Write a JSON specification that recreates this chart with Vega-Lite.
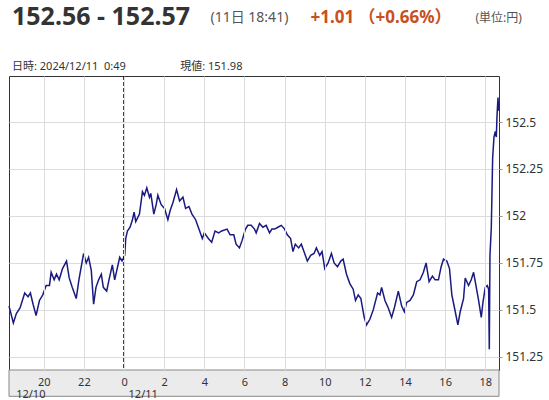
{
  "$schema": "https://vega.github.io/schema/vega-lite/v6.json",
  "width": 490,
  "height": 294,
  "autosize": {"type": "none"},
  "padding": {"left": 9, "top": 76, "right": 50, "bottom": 30},
  "background": "white",
  "title": {
    "text": "152.56 - 152.57",
    "subtitle": "日時: 2024/12/11\u00a0\u00a00:49\u00a0\u00a0\u00a0\u00a0\u00a0\u00a0\u00a0\u00a0\u00a0\u00a0\u00a0\u00a0\u00a0\u00a0\u00a0\u00a0\u00a0\u00a0\u00a0現値: 151.98",
    "anchor": "start",
    "frame": "group",
    "fontSize": 25,
    "fontWeight": "bold",
    "color": "#333333",
    "subtitleFontSize": 11,
    "subtitleColor": "#333333",
    "subtitlePadding": 31,
    "offset": 4,
    "dx": 3,
    "dy": 68
  },
  "layer": [
    {
      "data": {"values": [{}]},
      "mark": {"type": "rect", "fill": "#ebebeb", "stroke": "#888888", "strokeWidth": 1, "clip": false},
      "encoding": {
        "x": {"datum": {"year": 2024, "month": 12, "date": 10, "hours": 18, "minutes": 16}, "type": "temporal", "axis": null},
        "x2": {"datum": {"year": 2024, "month": 12, "date": 11, "hours": 18, "minutes": 41}},
        "y": {"datum": 151.18, "type": "quantitative", "axis": null},
        "y2": {"datum": 151.04}
      }
    },
    {
      "data": {
        "values": [
          {"time": "2024-12-10 18:16", "price": 151.52},
          {"time": "2024-12-10 18:19", "price": 151.50},
          {"time": "2024-12-10 18:29", "price": 151.43},
          {"time": "2024-12-10 18:38", "price": 151.48},
          {"time": "2024-12-10 18:49", "price": 151.51},
          {"time": "2024-12-10 19:03", "price": 151.59},
          {"time": "2024-12-10 19:13", "price": 151.57},
          {"time": "2024-12-10 19:20", "price": 151.59},
          {"time": "2024-12-10 19:28", "price": 151.53},
          {"time": "2024-12-10 19:37", "price": 151.47},
          {"time": "2024-12-10 19:47", "price": 151.55},
          {"time": "2024-12-10 19:57", "price": 151.58},
          {"time": "2024-12-10 20:07", "price": 151.63},
          {"time": "2024-12-10 20:17", "price": 151.63},
          {"time": "2024-12-10 20:22", "price": 151.70},
          {"time": "2024-12-10 20:31", "price": 151.66},
          {"time": "2024-12-10 20:38", "price": 151.69},
          {"time": "2024-12-10 20:46", "price": 151.66},
          {"time": "2024-12-10 20:56", "price": 151.72},
          {"time": "2024-12-10 21:08", "price": 151.76},
          {"time": "2024-12-10 21:16", "price": 151.67},
          {"time": "2024-12-10 21:25", "price": 151.62},
          {"time": "2024-12-10 21:37", "price": 151.56},
          {"time": "2024-12-10 21:45", "price": 151.66},
          {"time": "2024-12-10 21:59", "price": 151.80},
          {"time": "2024-12-10 22:07", "price": 151.75},
          {"time": "2024-12-10 22:14", "price": 151.78},
          {"time": "2024-12-10 22:22", "price": 151.71},
          {"time": "2024-12-10 22:29", "price": 151.53},
          {"time": "2024-12-10 22:36", "price": 151.62},
          {"time": "2024-12-10 22:44", "price": 151.66},
          {"time": "2024-12-10 22:52", "price": 151.69},
          {"time": "2024-12-10 22:58", "price": 151.62},
          {"time": "2024-12-10 23:08", "price": 151.60},
          {"time": "2024-12-10 23:15", "price": 151.66},
          {"time": "2024-12-10 23:25", "price": 151.74},
          {"time": "2024-12-10 23:32", "price": 151.66},
          {"time": "2024-12-10 23:47", "price": 151.78},
          {"time": "2024-12-10 23:54", "price": 151.76},
          {"time": "2024-12-11 00:02", "price": 151.79},
          {"time": "2024-12-11 00:05", "price": 151.88},
          {"time": "2024-12-11 00:10", "price": 151.92},
          {"time": "2024-12-11 00:18", "price": 151.94},
          {"time": "2024-12-11 00:25", "price": 151.98},
          {"time": "2024-12-11 00:30", "price": 152.02},
          {"time": "2024-12-11 00:35", "price": 151.97},
          {"time": "2024-12-11 00:46", "price": 152.01},
          {"time": "2024-12-11 00:55", "price": 152.13},
          {"time": "2024-12-11 01:01", "price": 152.11},
          {"time": "2024-12-11 01:08", "price": 152.15},
          {"time": "2024-12-11 01:16", "price": 152.10},
          {"time": "2024-12-11 01:20", "price": 152.12},
          {"time": "2024-12-11 01:29", "price": 152.01},
          {"time": "2024-12-11 01:36", "price": 152.06},
          {"time": "2024-12-11 01:41", "price": 152.11},
          {"time": "2024-12-11 01:51", "price": 152.06},
          {"time": "2024-12-11 02:01", "price": 152.04},
          {"time": "2024-12-11 02:11", "price": 151.98},
          {"time": "2024-12-11 02:18", "price": 152.03},
          {"time": "2024-12-11 02:26", "price": 152.07},
          {"time": "2024-12-11 02:37", "price": 152.14},
          {"time": "2024-12-11 02:46", "price": 152.08},
          {"time": "2024-12-11 02:56", "price": 152.10},
          {"time": "2024-12-11 03:04", "price": 152.04},
          {"time": "2024-12-11 03:14", "price": 152.05},
          {"time": "2024-12-11 03:23", "price": 152.01},
          {"time": "2024-12-11 03:34", "price": 151.98},
          {"time": "2024-12-11 03:42", "price": 151.94},
          {"time": "2024-12-11 03:54", "price": 151.88},
          {"time": "2024-12-11 04:00", "price": 151.91},
          {"time": "2024-12-11 04:12", "price": 151.88},
          {"time": "2024-12-11 04:22", "price": 151.86},
          {"time": "2024-12-11 04:32", "price": 151.92},
          {"time": "2024-12-11 04:43", "price": 151.91},
          {"time": "2024-12-11 04:52", "price": 151.92},
          {"time": "2024-12-11 05:08", "price": 151.93},
          {"time": "2024-12-11 05:17", "price": 151.90},
          {"time": "2024-12-11 05:28", "price": 151.90},
          {"time": "2024-12-11 05:35", "price": 151.85},
          {"time": "2024-12-11 05:45", "price": 151.83},
          {"time": "2024-12-11 05:53", "price": 151.87},
          {"time": "2024-12-11 06:03", "price": 151.93},
          {"time": "2024-12-11 06:10", "price": 151.95},
          {"time": "2024-12-11 06:20", "price": 151.95},
          {"time": "2024-12-11 06:30", "price": 151.93},
          {"time": "2024-12-11 06:35", "price": 151.91},
          {"time": "2024-12-11 06:45", "price": 151.96},
          {"time": "2024-12-11 06:55", "price": 151.94},
          {"time": "2024-12-11 07:05", "price": 151.95},
          {"time": "2024-12-11 07:15", "price": 151.91},
          {"time": "2024-12-11 07:22", "price": 151.93},
          {"time": "2024-12-11 07:30", "price": 151.93},
          {"time": "2024-12-11 07:40", "price": 151.94},
          {"time": "2024-12-11 07:50", "price": 151.95},
          {"time": "2024-12-11 08:00", "price": 151.93},
          {"time": "2024-12-11 08:08", "price": 151.90},
          {"time": "2024-12-11 08:18", "price": 151.88},
          {"time": "2024-12-11 08:25", "price": 151.81},
          {"time": "2024-12-11 08:32", "price": 151.85},
          {"time": "2024-12-11 08:42", "price": 151.83},
          {"time": "2024-12-11 08:50", "price": 151.85},
          {"time": "2024-12-11 09:00", "price": 151.80},
          {"time": "2024-12-11 09:08", "price": 151.76},
          {"time": "2024-12-11 09:18", "price": 151.79},
          {"time": "2024-12-11 09:28", "price": 151.80},
          {"time": "2024-12-11 09:35", "price": 151.83},
          {"time": "2024-12-11 09:45", "price": 151.79},
          {"time": "2024-12-11 09:52", "price": 151.81},
          {"time": "2024-12-11 10:00", "price": 151.72},
          {"time": "2024-12-11 10:10", "price": 151.75},
          {"time": "2024-12-11 10:20", "price": 151.80},
          {"time": "2024-12-11 10:28", "price": 151.75},
          {"time": "2024-12-11 10:38", "price": 151.73},
          {"time": "2024-12-11 10:48", "price": 151.76},
          {"time": "2024-12-11 10:55", "price": 151.77},
          {"time": "2024-12-11 11:05", "price": 151.69},
          {"time": "2024-12-11 11:15", "price": 151.64},
          {"time": "2024-12-11 11:25", "price": 151.61},
          {"time": "2024-12-11 11:32", "price": 151.55},
          {"time": "2024-12-11 11:40", "price": 151.58},
          {"time": "2024-12-11 11:48", "price": 151.56},
          {"time": "2024-12-11 11:58", "price": 151.46},
          {"time": "2024-12-11 12:05", "price": 151.42},
          {"time": "2024-12-11 12:15", "price": 151.45},
          {"time": "2024-12-11 12:25", "price": 151.50},
          {"time": "2024-12-11 12:38", "price": 151.59},
          {"time": "2024-12-11 12:45", "price": 151.58},
          {"time": "2024-12-11 12:50", "price": 151.62},
          {"time": "2024-12-11 13:00", "price": 151.55},
          {"time": "2024-12-11 13:10", "price": 151.51},
          {"time": "2024-12-11 13:20", "price": 151.46},
          {"time": "2024-12-11 13:28", "price": 151.51},
          {"time": "2024-12-11 13:40", "price": 151.60},
          {"time": "2024-12-11 13:50", "price": 151.52},
          {"time": "2024-12-11 13:58", "price": 151.49},
          {"time": "2024-12-11 14:05", "price": 151.54},
          {"time": "2024-12-11 14:15", "price": 151.55},
          {"time": "2024-12-11 14:25", "price": 151.58},
          {"time": "2024-12-11 14:35", "price": 151.65},
          {"time": "2024-12-11 14:45", "price": 151.66},
          {"time": "2024-12-11 14:55", "price": 151.70},
          {"time": "2024-12-11 15:03", "price": 151.75},
          {"time": "2024-12-11 15:12", "price": 151.65},
          {"time": "2024-12-11 15:22", "price": 151.68},
          {"time": "2024-12-11 15:30", "price": 151.66},
          {"time": "2024-12-11 15:40", "price": 151.66},
          {"time": "2024-12-11 15:48", "price": 151.73},
          {"time": "2024-12-11 15:55", "price": 151.77},
          {"time": "2024-12-11 16:05", "price": 151.76},
          {"time": "2024-12-11 16:13", "price": 151.72},
          {"time": "2024-12-11 16:20", "price": 151.58},
          {"time": "2024-12-11 16:28", "price": 151.51},
          {"time": "2024-12-11 16:38", "price": 151.42},
          {"time": "2024-12-11 16:45", "price": 151.49},
          {"time": "2024-12-11 16:55", "price": 151.56},
          {"time": "2024-12-11 17:00", "price": 151.67},
          {"time": "2024-12-11 17:10", "price": 151.63},
          {"time": "2024-12-11 17:18", "price": 151.66},
          {"time": "2024-12-11 17:25", "price": 151.70},
          {"time": "2024-12-11 17:32", "price": 151.63},
          {"time": "2024-12-11 17:40", "price": 151.55},
          {"time": "2024-12-11 17:48", "price": 151.46},
          {"time": "2024-12-11 17:53", "price": 151.54},
          {"time": "2024-12-11 18:00", "price": 151.62},
          {"time": "2024-12-11 18:06", "price": 151.63},
          {"time": "2024-12-11 18:10", "price": 151.61},
          {"time": "2024-12-11 18:12", "price": 151.29},
          {"time": "2024-12-11 18:14", "price": 151.79},
          {"time": "2024-12-11 18:18", "price": 151.94},
          {"time": "2024-12-11 18:22", "price": 152.31},
          {"time": "2024-12-11 18:26", "price": 152.42},
          {"time": "2024-12-11 18:30", "price": 152.45},
          {"time": "2024-12-11 18:33", "price": 152.42},
          {"time": "2024-12-11 18:35", "price": 152.53},
          {"time": "2024-12-11 18:38", "price": 152.63},
          {"time": "2024-12-11 18:40", "price": 152.56}
        ]
      },
      "mark": {"type": "line", "color": "#1a1a80", "strokeWidth": 1.5},
      "encoding": {
        "x": {
          "field": "time",
          "type": "temporal",
          "scale": {"domain": [
            {"year": 2024, "month": 12, "date": 10, "hours": 18, "minutes": 16},
            {"year": 2024, "month": 12, "date": 11, "hours": 18, "minutes": 41}
          ]},
          "axis": {
            "values": [
              {"year": 2024, "month": 12, "date": 10, "hours": 18, "minutes": 36},
              {"year": 2024, "month": 12, "date": 10, "hours": 20},
              {"year": 2024, "month": 12, "date": 10, "hours": 22},
              {"year": 2024, "month": 12, "date": 11, "hours": 0},
              {"year": 2024, "month": 12, "date": 11, "hours": 0, "minutes": 12},
              {"year": 2024, "month": 12, "date": 11, "hours": 2},
              {"year": 2024, "month": 12, "date": 11, "hours": 4},
              {"year": 2024, "month": 12, "date": 11, "hours": 6},
              {"year": 2024, "month": 12, "date": 11, "hours": 8},
              {"year": 2024, "month": 12, "date": 11, "hours": 10},
              {"year": 2024, "month": 12, "date": 11, "hours": 12},
              {"year": 2024, "month": 12, "date": 11, "hours": 14},
              {"year": 2024, "month": 12, "date": 11, "hours": 16},
              {"year": 2024, "month": 12, "date": 11, "hours": 18}
            ],
            "labelExpr": "minutes(datum.value) > 0 ? timeFormat(datum.value, '%m/%d') : timeFormat(datum.value, '%-H')",
            "labelAlign": {"condition": {"test": "minutes(datum.value) > 0", "value": "left"}, "value": "center"},
            "labelPadding": {"condition": {"test": "minutes(datum.value) > 0", "value": 18}, "value": 6},
            "labelBaseline": "top",
            "labelFontSize": 11,
            "labelColor": "#333333",
            "labelOverlap": false,
            "labelBound": false,
            "labelFlush": false,
            "ticks": false,
            "domain": false,
            "grid": true,
            "gridColor": "#dcdcdc",
            "gridOpacity": {"condition": {"test": "minutes(datum.value) > 0", "value": 0}, "value": 1},
            "zindex": 1,
            "title": "(11日 18:41)",
            "titleX": 201,
            "titleY": -349,
            "titleAlign": "left",
            "titleAnchor": "start",
            "titleBaseline": "alphabetic",
            "titleFontSize": 14,
            "titleFontWeight": "normal",
            "titleColor": "#555555"
          }
        },
        "y": {
          "field": "price",
          "type": "quantitative",
          "scale": {"domain": [151.18, 152.745], "nice": false, "zero": false},
          "axis": {
            "orient": "right",
            "values": [151.25, 151.5, 151.75, 152, 152.25, 152.5],
            "format": ".2~f",
            "labelFontSize": 12,
            "labelColor": "#333333",
            "tickSize": 3,
            "tickColor": "#999999",
            "labelPadding": 3,
            "domain": false,
            "grid": true,
            "gridColor": "#dcdcdc",
            "title": "+1.01 （+0.66%）",
            "titleAngle": 0,
            "titleX": -189,
            "titleY": -54,
            "titleAlign": "left",
            "titleAnchor": "start",
            "titleBaseline": "alphabetic",
            "titleFontSize": 17,
            "titleFontWeight": "bold",
            "titleColor": "#c8501e"
          }
        }
      }
    },
    {
      "data": {"values": [{"time": "2024-12-11 00:00"}]},
      "mark": {"type": "rule", "color": "#000000", "strokeWidth": 1.6, "strokeDash": [4, 2]},
      "encoding": {
        "x": {
          "field": "time",
          "type": "temporal",
          "axis": {
            "orient": "top",
            "labels": false,
            "ticks": false,
            "domain": false,
            "grid": false,
            "title": "(単位:円)",
            "titleX": 466,
            "titleY": -55,
            "titleAlign": "left",
            "titleAnchor": "start",
            "titleBaseline": "alphabetic",
            "titleFontSize": 12,
            "titleFontWeight": "normal",
            "titleColor": "#555555"
          }
        }
      }
    }
  ],
  "resolve": {"axis": {"x": "independent", "y": "independent"}},
  "config": {
    "font": "Noto Sans, Noto Sans CJK JP",
    "view": {"stroke": "#333333", "strokeWidth": 1}
  }
}
